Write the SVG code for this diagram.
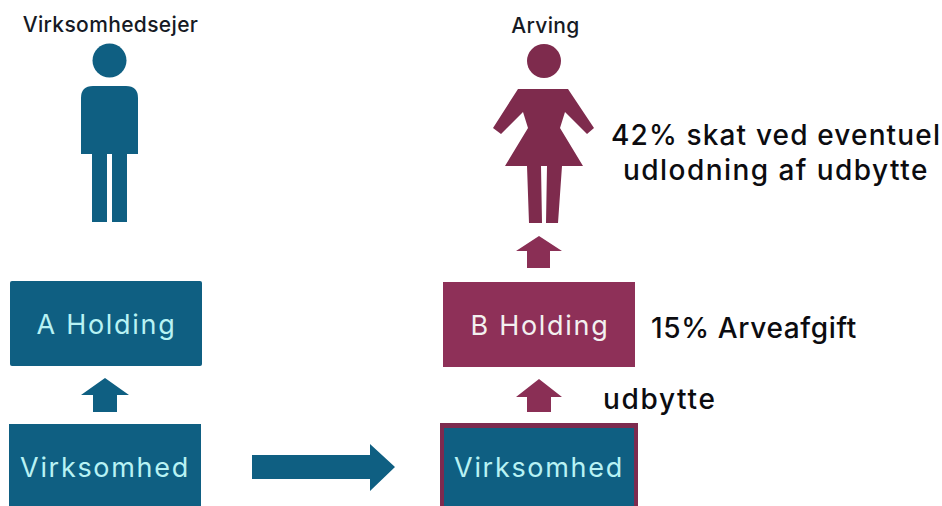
<svg xmlns="http://www.w3.org/2000/svg" width="942" height="506" viewBox="0 0 942 506">
<style>
.blue{fill:#0f5f82}
.red{fill:#7e2b4d}
.head{font:500 21px "Inter","Noto Sans",sans-serif;fill:#161a24;text-anchor:middle;letter-spacing:.35px}
.box{font:400 27px "Inter","Noto Sans",sans-serif;fill:#b8f2f4;text-anchor:middle;letter-spacing:1.7px}
.note{font:500 28px "Inter","Noto Sans",sans-serif;fill:#0c0c10}
</style>
<rect width="942" height="506" fill="#fff"/>
<g id="owner">
<circle class="blue" cx="109.500" cy="60.500" r="17"/>
<path class="blue" d="M93 86H126Q138 86 138 98V154H127V222H112V154H107V222H92V154H81V98Q81 86 93 86Z"/>
<text class="head" x="110.500" y="32">Virksomhedsejer</text>
</g>
<g id="heir">
<circle class="red" cx="544" cy="61" r="17"/>
<path class="red" d="M518 89H568L594 128L587 134L565 112L560 128L583 166H562L558 223H546L547 166H541L542 223H529L527 166H505L528 128L523 112L501 134L493 128Z"/>
<text class="head" x="545.500" y="33">Arving</text>
</g>
<g id="a-holding">
<rect class="blue" x="10" y="281" width="192" height="85" rx="2"/>
<text class="box" x="106.500" y="334">A Holding</text>
</g>
<g id="b-holding">
<rect x="443" y="282" width="192" height="85" fill="#8e3058"/>
<text class="box" x="540" y="335" style="fill:#f3f0f0">B Holding</text>
</g>
<g id="virksomhed-a">
<rect class="blue" x="9" y="424" width="192" height="82"/>
<text class="box" x="105" y="477">Virksomhed</text>
</g>
<g id="virksomhed-b">
<rect x="440" y="423" width="198" height="83" fill="#7d2b4f"/>
<rect class="blue" x="444" y="428" width="190" height="78"/>
<text class="box" x="539" y="477">Virksomhed</text>
</g>
<g id="connectors">
<path class="blue" d="M81 395L105 378L129 395H117V412H93V395Z"/>
<path d="M516 397L539 379L562 397H551V412H527V397Z" fill="#8a2f55"/>
<path d="M516 251L539 236L562 251H550V268H527V251Z" fill="#8a2f55"/>
<path class="blue" d="M252 455H370V444L395 467L370 491V479H252Z"/>
</g>
<g id="labels">
<text class="note" x="611" y="145" style="letter-spacing:1.15px">42% skat ved eventuel</text>
<text class="note" x="623" y="180" style="letter-spacing:1.45px">udlodning af udbytte</text>
<text class="note" x="651" y="338" style="letter-spacing:.65px">15% Arveafgift</text>
<text class="note" x="603" y="409" style="letter-spacing:1.65px">udbytte</text>
</g>
</svg>
